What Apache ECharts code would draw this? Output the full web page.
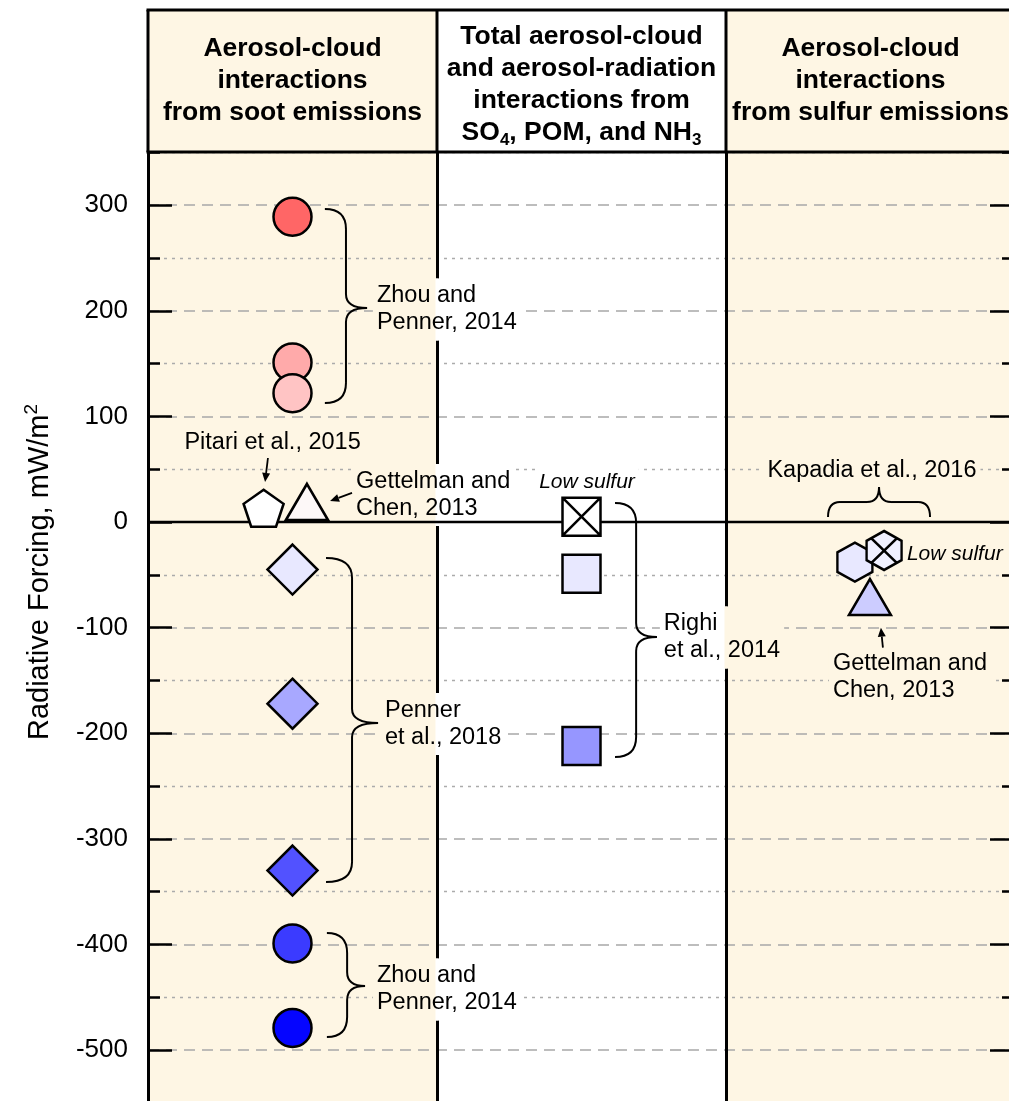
<!DOCTYPE html>
<html><head><meta charset="utf-8">
<script src="https://cdn.jsdelivr.net/npm/echarts@6/dist/echarts.min.js"></script>
<style>html,body{margin:0;padding:0;background:#fff;overflow:hidden}#chart{width:1015px;height:1160px}</style>
</head><body><div id="chart"></div>
<script>
// ---------------- DATA ----------------
const columnTitles = [
  'Aerosol-cloud\ninteractions\nfrom soot emissions',
  'Total aerosol-cloud\nand aerosol-radiation\ninteractions from\nSO{sub|4}, POM, and NH{sub|3}',
  'Aerosol-cloud\ninteractions\nfrom sulfur emissions'
];
const yMin = -600, yMax = 400, yStep = 100;     // axis range (visible: -550 .. 350)
const yTitle = 'Radiative Forcing, mW/m{sup|2}';

// column 1: soot (x = position inside column band, y = mW/m2)
const sootCircles = [[0.5, 289], [0.5, 151], [0.5, 122], [0.5, -399], [0.5, -479]];
const sootCircleColors = ['#FF6666', '#FFAAAA', '#FFC4C4', '#3B3BFF', '#0505FF'];
const sootDiamonds = [[0.5, -45], [0.5, -172], [0.5, -330]];
const sootDiamondColors = ['#E8E8FF', '#A8A8FF', '#5252FF'];
const pitariPentagon = [[0.40, 13]];
const gettelmanSootTriangle = [[0.55, 19]];
// column 2: SO4, POM, NH3
const righiSquares = [[1.5, -49], [1.5, -212]];
const righiSquareColors = ['#E8E8FF', '#9696FF'];
const righiLowSulfur = [[1.5, 5]];
// column 3: sulfur
const kapadiaHex = [[2.446, -38]];
const kapadiaHexLowSulfur = [[2.547, -27]];
const gettelmanSulfurTriangle = [[2.498, -71]];

// annotations
const labelTexts = ['Zhou and\nPenner, 2014', 'Pitari et al., 2015', 'Gettelman and\nChen, 2013', 'Low sulfur',
  'Righi\net al., 2014', 'Kapadia et al., 2016', 'Low sulfur', 'Gettelman and\nChen, 2013',
  'Penner\net al., 2018', 'Zhou and\nPenner, 2014'];
const labelAnchors = [[0.792, 201.2], [0.431, 75.7], [0.72, 25.6], [1.519, 37.9], [1.785, -109.3],
  [2.505, 49.2], [2.626, -30.3], [2.370, -146.7], [0.82, -191.2], [0.792, -442.6]];
const labelAlign = ['left', 'center', 'left', 'center', 'left', 'center', 'left', 'left', 'left', 'left'];
const labelItalic = [false, false, false, true, false, false, true, false, false, false];
// vertical braces: [xEnd, xSpine, xTip, yTop, yBottom, yTip]
const vBraces = [[0.612, 0.685, 0.758, 296.3, 112.7, 202.6], [0.616, 0.706, 0.796, -34.1, -340.8, -190.3],
  [0.619, 0.689, 0.751, -389.1, -487.6, -439.3], [1.616, 1.689, 1.761, 18, -222.5, -108.9]];
// horizontal braces: [xLeft, xRight, yEnd, ySpine, yTip]
const hBraces = [[2.353, 2.706, 4.7, 18.9, 33.1]];
// arrows: [xTail, yTail, xHead, yHead]
const arrows = [[0.415, 60.6, 0.405, 37.9], [0.706, 27.5, 0.63, 19.9], [2.543, -119, 2.536, -100]];

// ---------------- STYLE / LAYOUT ----------------
const FONT = '"Liberation Sans", Arial, Helvetica, sans-serif';
const colColors = ['#FEF6E4', '#FFFFFF', '#FEF6E4'];
const GL = 148, COLW = 289, HTOP = 10, HBOT = 152;
const PXU = 1.05625; // px per unit
const gridTop = 522 - yMax * PXU;
const gridH = (yMax - yMin) * PXU;

const mctx = document.createElement('canvas').getContext('2d');
function textWidth(s, font) { mctx.font = font; return mctx.measureText(s).width; }

const chart = echarts.init(document.getElementById('chart'), null, { renderer: 'canvas' });

function items(pts, colors) {
  return pts.map((p, i) => ({ value: p, itemStyle: { color: colors[i] } }));
}
const bw = 2.5;
function scatter(name, data, symbol, size, color) {
  return {
    name, type: 'scatter', data, symbol, symbolSize: size, z: 6, silent: true,
    itemStyle: { color: color || '#fff', borderColor: '#000', borderWidth: bw, opacity: 1 }
  };
}

const PENTAGON = 'path://M0,-1 L0.951,-0.309 L0.588,0.809 L-0.588,0.809 L-0.951,-0.309 Z';
const HEXAGON = 'path://M0,-1 L0.866,-0.5 L0.866,0.5 L0,1 L-0.866,0.5 L-0.866,-0.5 Z';
const HEXAGON_X = 'path://M0,-1 L0.866,-0.5 L0.866,0.5 L0,1 L-0.866,0.5 L-0.866,-0.5 Z M-0.634,-0.634 L0.634,0.634 M0.634,-0.634 L-0.634,0.634';
const SQUARE_X = 'path://M0,0 L1,0 L1,1 L0,1 Z M0,0 L1,1 M1,0 L0,1';

// header graphic
const header = [];
for (let c = 0; c < 3; c++) {
  header.push({ type: 'rect', z: 100, shape: { x: GL + c * COLW, y: HTOP, width: COLW, height: HBOT - HTOP }, style: { fill: colColors[c] } });
}
for (let c = 0; c < 3; c++) {
  header.push({
    type: 'text', z: 102, x: GL + c * COLW + COLW / 2, y: (c === 1 ? 85 : 81),
    style: {
      text: columnTitles[c], align: 'center', verticalAlign: 'middle', fontSize: 26.5, fontWeight: 'bold',
      fontFamily: FONT, lineHeight: 32, fill: '#000',
      rich: { sub: { fontSize: 17, fontWeight: 'bold', fontFamily: FONT, verticalAlign: 'bottom', lineHeight: 24 } }
    }
  });
}
header.push({ type: 'line', z: 103, shape: { x1: GL - 1.5, y1: HTOP, x2: GL + 3 * COLW, y2: HTOP }, style: { stroke: '#000', lineWidth: 3 } });
header.push({ type: 'line', z: 103, shape: { x1: GL - 1.5, y1: HBOT, x2: GL + 3 * COLW, y2: HBOT }, style: { stroke: '#000', lineWidth: 3 } });
for (let c = 0; c < 3; c++) {
  header.push({ type: 'line', z: 103, shape: { x1: GL + c * COLW, y1: HTOP, x2: GL + c * COLW, y2: HBOT }, style: { stroke: '#000', lineWidth: 3 } });
}
header.push({
  type: 'text', z: 102, x: 40, y: 572, rotation: Math.PI / 2,
  style: {
    text: yTitle, align: 'center', verticalAlign: 'middle', fontSize: 29, fontFamily: FONT, fill: '#000', lineHeight: 36,
    rich: { sup: { fontSize: 19, fontFamily: FONT, verticalAlign: 'top', lineHeight: 22 } }
  }
});

const option = {
  animation: false,
  backgroundColor: '#fff',
  grid: { left: GL, top: gridTop, width: 3 * COLW, height: gridH, containLabel: false },
  xAxis: [{
    type: 'value', min: 0, max: 3, interval: 1, z: 0,
    axisLine: { show: false, onZero: false }, axisTick: { show: false }, axisLabel: { show: false },
    splitLine: { show: false },
    splitArea: { show: true, areaStyle: { color: [colColors[0], colColors[1]] } }
  }, {
    type: 'value', min: 0, max: 3, interval: 1, z: 2, position: 'bottom',
    axisLine: { show: false, onZero: false }, axisTick: { show: false }, axisLabel: { show: false },
    splitLine: { show: true, lineStyle: { color: '#000', width: 3 } },
    splitArea: { show: false }
  }],
  yAxis: [{
    type: 'value', min: yMin, max: yMax, interval: yStep, position: 'left', z: 1,
    axisLine: { show: true, onZero: false, lineStyle: { color: '#000', width: 3 } },
    axisTick: { show: true, inside: true, length: 24, lineStyle: { color: '#000', width: 2.5 } },
    minorTick: { show: true, splitNumber: 2, length: 12, lineStyle: { color: '#000', width: 2.5 } },
    axisLabel: {
      fontSize: 26, color: '#000', fontFamily: FONT, margin: 20,
      formatter: v => (v > 350 || v < -550) ? '' : String(v)
    },
    splitLine: { show: true, lineStyle: { color: '#A8A8A8', width: 1.5, type: [11, 7] } },
    minorSplitLine: { show: true, lineStyle: { color: '#ABABAB', width: 1.3, type: [3, 5] } }
  }, {
    type: 'value', min: yMin, max: yMax, interval: yStep, position: 'right', z: 3,
    axisLine: { show: false, onZero: false },
    axisTick: { show: true, inside: true, length: 25, lineStyle: { color: '#000', width: 2.5 } },
    minorTick: { show: true, splitNumber: 2, length: 13, lineStyle: { color: '#000', width: 2.5 } },
    axisLabel: { show: false }, splitLine: { show: false }
  }],
  graphic: { elements: header },
  series: [
    // text labels with knockout backgrounds
    {
      type: 'custom', z: 3, silent: true,
      data: labelAnchors.map((a, i) => [a[0], a[1], i]),
      encode: { x: 0, y: 1 },
      renderItem(params, api) {
        const i = api.value(2);
        const p = api.coord([api.value(0), api.value(1)]);
        const it = labelItalic[i];
        const fs = it ? 21 : 23.5, lh = it ? 24 : 27;
        const font = (it ? 'italic ' : '') + fs + 'px ' + FONT;
        const lines = labelTexts[i].split('\n');
        const w = Math.max.apply(null, lines.map(l => textWidth(l, font)));
        const h = lines.length * lh;
        const left = labelAlign[i] === 'center' ? p[0] - w / 2 : p[0];
        const bx0 = left - 4, bx1 = left + w + 4, by0 = p[1] - h / 2 - 4, by1 = p[1] + h / 2 + 4;
        const children = [];
        for (let c = 0; c < 3; c++) {
          const cx0 = api.coord([c, 0])[0], cx1 = api.coord([c + 1, 0])[0];
          const a = Math.max(bx0, cx0 - 1.5), b = Math.min(bx1, cx1 + 1.5);
          if (b > a) children.push({ type: 'rect', shape: { x: a, y: by0, width: b - a, height: by1 - by0 }, style: { fill: colColors[c] } });
        }
        children.push({
          type: 'text', x: p[0], y: p[1],
          style: { text: labelTexts[i], align: labelAlign[i], verticalAlign: 'middle', fontSize: fs, fontStyle: it ? 'italic' : 'normal', fontFamily: FONT, lineHeight: lh, fill: '#000' }
        });
        return { type: 'group', children };
      }
    },
    // zero line
    {
      type: 'line', z: 4, silent: true, data: [[0, 0], [3, 0]], symbol: 'none',
      lineStyle: { color: '#000', width: 2.5 }
    },
    // vertical braces
    {
      type: 'custom', z: 5, silent: true, data: vBraces, encode: { x: [0, 1, 2], y: [3, 4, 5] },
      renderItem(params, api) {
        const y0 = api.value(3);
        const X0 = api.coord([api.value(0), y0])[0], X1 = api.coord([api.value(1), y0])[0], X2 = api.coord([api.value(2), y0])[0];
        const Yt = api.coord([0, api.value(3)])[1], Yb = api.coord([0, api.value(4)])[1], Ym = api.coord([0, api.value(5)])[1];
        const r = 20, rt = 14;
        const st = { stroke: '#000', lineWidth: 2, fill: null };
        return {
          type: 'group', children: [
            { type: 'bezierCurve', shape: { x1: X0, y1: Yt, cpx1: X1, cpy1: Yt, x2: X1, y2: Yt + r }, style: st },
            { type: 'line', shape: { x1: X1, y1: Yt + r, x2: X1, y2: Ym - rt }, style: st },
            { type: 'bezierCurve', shape: { x1: X1, y1: Ym - rt, cpx1: X1, cpy1: Ym, x2: X2, y2: Ym }, style: st },
            { type: 'bezierCurve', shape: { x1: X2, y1: Ym, cpx1: X1, cpy1: Ym, x2: X1, y2: Ym + rt }, style: st },
            { type: 'line', shape: { x1: X1, y1: Ym + rt, x2: X1, y2: Yb - r }, style: st },
            { type: 'bezierCurve', shape: { x1: X1, y1: Yb - r, cpx1: X1, cpy1: Yb, x2: X0, y2: Yb }, style: st }
          ]
        };
      }
    },
    // horizontal braces
    {
      type: 'custom', z: 5, silent: true, data: hBraces, encode: { x: [0, 1], y: [2, 3, 4] },
      renderItem(params, api) {
        const X0 = api.coord([api.value(0), 0])[0], X1 = api.coord([api.value(1), 0])[0];
        const Ye = api.coord([0, api.value(2)])[1], Ys = api.coord([0, api.value(3)])[1], Yt = api.coord([0, api.value(4)])[1];
        const Xm = (X0 + X1) / 2, r = 12, rt = 12;
        const st = { stroke: '#000', lineWidth: 2, fill: null };
        return {
          type: 'group', children: [
            { type: 'bezierCurve', shape: { x1: X0, y1: Ye, cpx1: X0, cpy1: Ys, x2: X0 + r, y2: Ys }, style: st },
            { type: 'line', shape: { x1: X0 + r, y1: Ys, x2: Xm - rt, y2: Ys }, style: st },
            { type: 'bezierCurve', shape: { x1: Xm - rt, y1: Ys, cpx1: Xm, cpy1: Ys, x2: Xm, y2: Yt }, style: st },
            { type: 'bezierCurve', shape: { x1: Xm, y1: Yt, cpx1: Xm, cpy1: Ys, x2: Xm + rt, y2: Ys }, style: st },
            { type: 'line', shape: { x1: Xm + rt, y1: Ys, x2: X1 - r, y2: Ys }, style: st },
            { type: 'bezierCurve', shape: { x1: X1 - r, y1: Ys, cpx1: X1, cpy1: Ys, x2: X1, y2: Ye }, style: st }
          ]
        };
      }
    },
    // arrows
    {
      type: 'custom', z: 5, silent: true, data: arrows, encode: { x: [0, 2], y: [1, 3] },
      renderItem(params, api) {
        const t = api.coord([api.value(0), api.value(1)]), h = api.coord([api.value(2), api.value(3)]);
        const dx = h[0] - t[0], dy = h[1] - t[1], len = Math.hypot(dx, dy);
        const ux = dx / len, uy = dy / len, hl = 9, hw = 4;
        const bx = h[0] - ux * hl, by = h[1] - uy * hl;
        return {
          type: 'group', children: [
            { type: 'line', shape: { x1: t[0], y1: t[1], x2: bx, y2: by }, style: { stroke: '#000', lineWidth: 1.8 } },
            { type: 'polygon', shape: { points: [[h[0], h[1]], [bx - uy * hw, by + ux * hw], [bx + uy * hw, by - ux * hw]] }, style: { fill: '#000' } }
          ]
        };
      }
    },
    // markers
    scatter('Zhou and Penner 2014', items(sootCircles, sootCircleColors), 'circle', 38),
    scatter('Penner 2018', items(sootDiamonds, sootDiamondColors), 'diamond', [50, 50]),
    scatter('Pitari 2015', pitariPentagon, PENTAGON, [40, 37], '#FFFFFF'),
    scatter('Gettelman and Chen 2013 (soot)', gettelmanSootTriangle, 'triangle', [42, 36], '#FDF8F8'),
    scatter('Righi 2014', items(righiSquares, righiSquareColors), 'rect', 38),
    scatter('Righi 2014 low sulfur', righiLowSulfur, SQUARE_X, 38, '#FFFFFF'),
    scatter('Kapadia 2016', kapadiaHex, HEXAGON, [35, 39], '#E8E8FF'),
    scatter('Kapadia 2016 low sulfur', kapadiaHexLowSulfur, HEXAGON_X, [35, 39], '#F0F0FF'),
    scatter('Gettelman and Chen 2013 (sulfur)', gettelmanSulfurTriangle, 'triangle', [42, 36], '#CCCCFF')
  ]
};
chart.setOption(option);
</script>
</body></html>
